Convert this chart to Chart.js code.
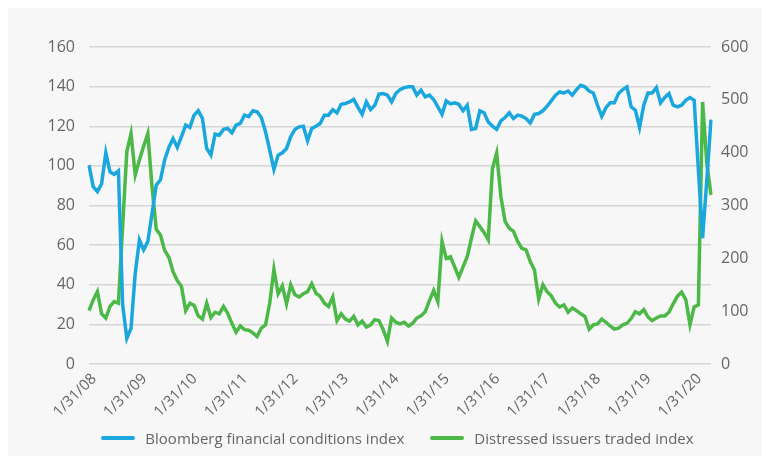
<!DOCTYPE html>
<html>
<head>
<meta charset="utf-8">
<script src="https://cdn.jsdelivr.net/npm/chart.js@4.4.1/dist/chart.umd.min.js"></script>
<style>
  html, body { margin: 0; padding: 0; background: #ffffff; }
  #wrap { position: relative; width: 770px; height: 463px; }
  #grafico { position: absolute; left: 0; top: 0; }
  #leyenda {
    position: absolute; left: 25px; right: 0; top: 427px; height: 22px;
    display: flex; justify-content: center; align-items: center;
    font-family: 'Open Sans', sans-serif; font-size: 15px; color: #666666;
  }
  .item { display: flex; align-items: center; margin: 0 13px; }
  .marca { width: 34px; height: 4px; border-radius: 2px; margin-right: 10px; }
</style>
</head>
<body>
<div id="wrap">
  <canvas id="grafico" width="770" height="463"></canvas>
  <div id="leyenda"></div>
</div>
<script>
// Datos mensuales, enero 2008 - mayo 2020
const tickLabels = ['1/31/08', '1/31/09', '1/31/10', '1/31/11', '1/31/12', '1/31/13', '1/31/14',
    '1/31/15', '1/31/16', '1/31/17', '1/31/18', '1/31/19', '1/31/20'];

const bfci = [
    100.4, 89.5, 87, 91, 106.6, 97, 95.7, 97.5, 30, 13, 18, 45.8,
    62.6, 57.6, 61.8, 76, 90.3, 93, 103, 109.3, 113.8, 109.3, 114.7, 120.6,
    119.4, 125.6, 127.8, 123.9, 108.8, 105.4, 116, 115.5, 118.4, 118.9, 116.7, 120.6,
    121.4, 125.6, 124.8, 127.8, 127.3, 124.4, 117.2, 108, 98.2, 105.4, 106.6, 108.8,
    114.7, 118.4, 119.7, 120, 112.7, 118.9, 120, 121.4, 125.6, 125.6, 128.4, 126.8,
    131.1, 131.5, 132.3, 133.5, 129.5, 126, 132.3, 128.4, 130.6, 136.2, 136.5, 135.7,
    132.3, 136.5, 138.5, 139.5, 139.9, 139.9, 135.7, 138.2, 134.8, 135.7, 133.5, 129.8,
    126, 132.8, 131.3, 131.8, 131.1, 127.8, 130.6, 118.4, 118.9, 127.8, 126.8, 122.2,
    120, 118.4, 122.7, 124.4, 126.8, 123.9, 125.6, 125.1, 123.9, 121.7, 126, 126.4,
    127.8, 130.1, 132.8, 135.7, 137.3, 136.8, 137.8, 135.7, 138.5, 140.7, 139.9, 137.8,
    136.8, 130.6, 125, 129.4, 131.8, 131.8, 136.5, 138.5, 139.9, 129.8, 128.1, 119.4,
    130.6, 136.8, 136.8, 139.5, 131.8, 134.5, 136.5, 130.6, 129.8, 130.6, 133.1, 134.5,
    133.1, 97.9, 63.5, 92.8, 123.4
];

const distressed = [
    101, 121, 137, 95, 87, 109, 118, 115, 260, 402, 436, 358,
    386, 412, 436, 335, 255, 244, 215, 202, 175, 158, 147, 101,
    115, 111, 91, 85, 115, 88, 98, 95, 109, 96, 77, 60,
    72, 65, 64, 59, 52, 68, 74, 115, 179, 133, 148, 114,
    150, 131, 127, 133, 137, 152, 134, 128, 115, 109, 127, 82,
    95, 85, 81, 90, 74, 81, 70, 74, 84, 82, 65, 43,
    87, 79, 76, 79, 72, 77, 87, 91, 99, 120, 139, 118,
    232, 200, 203, 184, 164, 184, 203, 238, 271, 260, 249, 235,
    370, 399, 317, 270, 257, 251, 232, 219, 216, 194, 178, 123,
    150, 137, 129, 115, 108, 112, 98, 106, 101, 95, 90, 66,
    74, 76, 85, 79, 72, 66, 68, 74, 77, 86, 99, 95,
    103, 89, 82, 87, 91, 91, 98, 114, 128, 136, 122, 74,
    108, 112, 496, 380, 320
];

// Categorias: un mes por punto
const meses = bfci.map((v, i) => 'm' + i);

const AZUL = '#1aa7de';
const VERDE = '#4cb848';
const TEXTO = '#666666';

// Fondo gris del panel
const fondo = {
    id: 'fondo',
    beforeDraw(chart) {
        const ctx = chart.ctx;
        ctx.save();
        ctx.fillStyle = '#ffffff';
        ctx.fillRect(0, 0, chart.width, chart.height);
        ctx.fillStyle = '#f7f7f7';
        ctx.fillRect(8, 8, 754, 448);
        ctx.restore();
    }
};

const grafico = new Chart(document.getElementById('grafico'), {
    type: 'line',
    data: {
        labels: meses,
        datasets: [{
            label: 'Bloomberg financial conditions index',
            data: bfci,
            borderColor: AZUL,
            backgroundColor: AZUL,
            borderWidth: 3.5,
            pointRadius: 0,
            tension: 0,
            yAxisID: 'y'
        }, {
            label: 'Distressed issuers traded index',
            data: distressed,
            borderColor: VERDE,
            backgroundColor: VERDE,
            borderWidth: 3.5,
            pointRadius: 0,
            tension: 0,
            yAxisID: 'y2'
        }]
    },
    options: {
        responsive: false,
        animation: false,
        layout: { padding: { top: 47, bottom: 39, left: 25, right: 0 } },
        plugins: {
            tooltip: { enabled: false },
            legend: { display: false }
        },
        scales: {
            x: {
                grid: { display: false, drawTicks: false },
                border: { display: false },
                ticks: {
                    autoSkip: false,
                    minRotation: 45,
                    maxRotation: 45,
                    padding: 6,
                    labelOffset: 5,
                    color: TEXTO,
                    font: { family: 'Open Sans', size: 15 },
                    callback: (v, i) => (i % 12 === 0 ? tickLabels[i / 12] : null)
                },
                afterFit: (s) => { s.height = 60; }
            },
            y: {
                position: 'left',
                min: 0,
                max: 160,
                ticks: {
                    stepSize: 20,
                    padding: 14,
                    color: TEXTO,
                    font: { family: 'Open Sans', size: 16 }
                },
                grid: { color: '#d6d6d6', lineWidth: 1.5, drawTicks: false },
                border: { display: false },
                afterFit: (s) => { s.width = 64; }
            },
            y2: {
                position: 'right',
                min: 0,
                max: 600,
                ticks: {
                    stepSize: 100,
                    padding: 10,
                    color: TEXTO,
                    font: { family: 'Open Sans', size: 16 }
                },
                grid: { display: false, drawTicks: false },
                border: { display: false },
                afterFit: (s) => { s.width = 59; }
            }
        }
    },
    plugins: [fondo]
});

// Leyenda en HTML
const leyenda = document.getElementById('leyenda');
grafico.data.datasets.forEach(ds => {
    const item = document.createElement('div');
    item.className = 'item';
    item.innerHTML = `<span class="marca" style="background:${ds.borderColor}"></span><span>${ds.label}</span>`;
    leyenda.appendChild(item);
});
</script>
</body>
</html>
